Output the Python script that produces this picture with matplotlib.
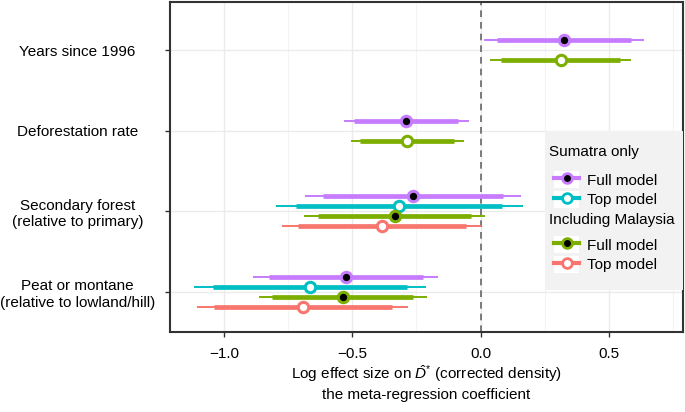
import matplotlib
matplotlib.use("Agg")
import matplotlib.pyplot as plt
from matplotlib.lines import Line2D
from matplotlib.patches import Rectangle, Patch
from matplotlib.legend_handler import HandlerTuple
import numpy as np

plt.rcParams['font.family'] = ['Liberation Sans', 'DejaVu Sans']
plt.rcParams['mathtext.fontset'] = 'custom'
plt.rcParams['mathtext.rm'] = 'Liberation Sans'
plt.rcParams['mathtext.it'] = 'Liberation Sans:italic'

categories = ["Years since 1996", "Deforestation rate",
              "Secondary forest\n(relative to primary)",
              "Peat or montane\n(relative to lowland/hill)"]

# Series: estimate, inner (thick) interval, outer (thin) interval; None = not present
sumatra_full = {
    "est":  [0.325, -0.289, -0.262, -0.524],
    "lo50": [0.062, -0.492, -0.616, -0.825],
    "hi50": [0.587, -0.087, 0.088, -0.223],
    "lo95": [0.014, -0.532, -0.684, -0.885],
    "hi95": [0.636, -0.047, 0.156, -0.165],
    "filled": [True, True, True, True],
}
sumatra_top = {
    "est":  [None, None, -0.317, -0.664],
    "lo50": [None, None, -0.719, -1.043],
    "hi50": [None, None, 0.084, -0.288],
    "lo95": [None, None, -0.797, -1.116],
    "hi95": [None, None, 0.163, -0.214],
    "filled": [False, False, False, False],
}
malaysia_full = {
    "est":  [0.312, -0.287, -0.333, -0.538],
    "lo50": [0.079, -0.470, -0.632, -0.811],
    "hi50": [0.542, -0.103, -0.039, -0.262],
    "lo95": [0.036, -0.506, -0.688, -0.865],
    "hi95": [0.587, -0.066, 0.016, -0.210],
    "filled": [False, False, True, True],
}
malaysia_top = {
    "est":  [None, None, -0.384, -0.693],
    "lo50": [None, None, -0.710, -1.037],
    "hi50": [None, None, -0.058, -0.347],
    "lo95": [None, None, -0.772, -1.103],
    "hi95": [None, None, 0.002, -0.283],
    "filled": [False, False, False, False],
}
x_ticks = [-1.0, -0.5, 0.0, 0.5]
x_ticklabels = ["\u22121.0", "\u22120.5", "0.0", "0.5"]

PURPLE = "#C77CFF"
CYAN = "#00BFC4"
GREEN = "#7CAE00"
RED = "#F8766D"

series = [
    (sumatra_full, PURPLE),
    (sumatra_top, CYAN),
    (malaysia_full, GREEN),
    (malaysia_top, RED),
]

W, H = 685, 412
fig = plt.figure(figsize=(6.85, 4.12), dpi=100)
ax = fig.add_axes([170/W, 1-332/H, 513/W, 330/H])

# dodge offsets (in category units)
unit = 1/80.5
off4 = [-15*unit, -5*unit, 5*unit, 15*unit]
off2 = {0: -10*unit, 2: 10*unit}

for si, (s, col) in enumerate(series):
    for ci in range(len(categories)):
        if s["est"][ci] is None:
            continue
        has4 = sumatra_top["est"][ci] is not None
        y = ci + (off4[si] if has4 else off2[si])
        ax.plot([s["lo95"][ci], s["hi95"][ci]], [y, y], color=col, lw=1.4,
                solid_capstyle='butt', zorder=3)
        ax.plot([s["lo50"][ci], s["hi50"][ci]], [y, y], color=col, lw=3.4,
                solid_capstyle='butt', zorder=4)
        ax.plot([s["est"][ci]], [y], 'o', ms=7.5,
                mfc='black' if s["filled"][ci] else 'white', mec=col,
                mew=2.2, zorder=5)

ax.axvline(0, color='#666666', lw=1.2, ls=(0, (4, 3)), zorder=2)

ax.set_xlim(-1.21, 0.788)
ax.set_ylim(3.497, -0.602)
ax.set_xticks(x_ticks)
ax.set_xticklabels(x_ticklabels, fontsize=11)
ax.set_xticks([-0.75, -0.25, 0.25, 0.75], minor=True)
ax.set_yticks(range(len(categories)))
ax.set_yticklabels(categories, fontsize=11, ha='center', multialignment='center')
ax.tick_params(axis='y', pad=63, length=3.5, color='#333333', width=1)
ax.tick_params(axis='x', pad=7, length=3.5, color='#333333', width=1)
ax.tick_params(axis='x', which='minor', length=0)
ax.grid(True, which='major', color='#EBEBEB', lw=1.0, zorder=0)
ax.grid(True, which='minor', axis='x', color='#F4F4F4', lw=0.8, zorder=0)
ax.set_axisbelow(True)
for sp in ax.spines.values():
    sp.set_color('#333333')
    sp.set_linewidth(1.5)

ax.set_xlabel("Log effect size on $\\hat{D}^{*}$ (corrected density)\nthe meta-regression coefficient",
              fontsize=11, labelpad=2, linespacing=1.3)

# legend background
ax.add_patch(Rectangle((545/W, 1-290/H), (683-545)/W, (290-131)/H,
                       transform=fig.transFigure, facecolor='#F2F2F2',
                       edgecolor='none', zorder=6))

def h(col, full):
    bg = Patch(facecolor='white', edgecolor='none')
    ln = Line2D([], [], color=col, lw=3.0, marker='o', ms=7,
                mfc='black' if full else 'white', mec=col, mew=2.0)
    return (bg, ln)

fig.text(549/W, 1-152/H, "Sumatra only", fontsize=11, va='center', ha='left', zorder=8)
fig.text(549/W, 1-220/H, "Including Malaysia", fontsize=11, va='center', ha='left', zorder=8)

common = dict(loc='upper left', frameon=False, fontsize=11,
              handlelength=1.65, handleheight=1.35, handletextpad=0.5,
              labelspacing=0.17, borderpad=0.0, borderaxespad=0.0,
              handler_map={tuple: HandlerTuple(ndivide=1)})
leg1 = fig.legend([h(PURPLE, True), h(CYAN, False)], ["Full model", "Top model"],
                  bbox_to_anchor=(554/W, 1-171/H), **common)
leg2 = fig.legend([h(GREEN, True), h(RED, False)], ["Full model", "Top model"],
                  bbox_to_anchor=(554/W, 1-236/H), **common)
leg1.set_zorder(7)
leg2.set_zorder(7)

fig.savefig("out.png", dpi=100)
